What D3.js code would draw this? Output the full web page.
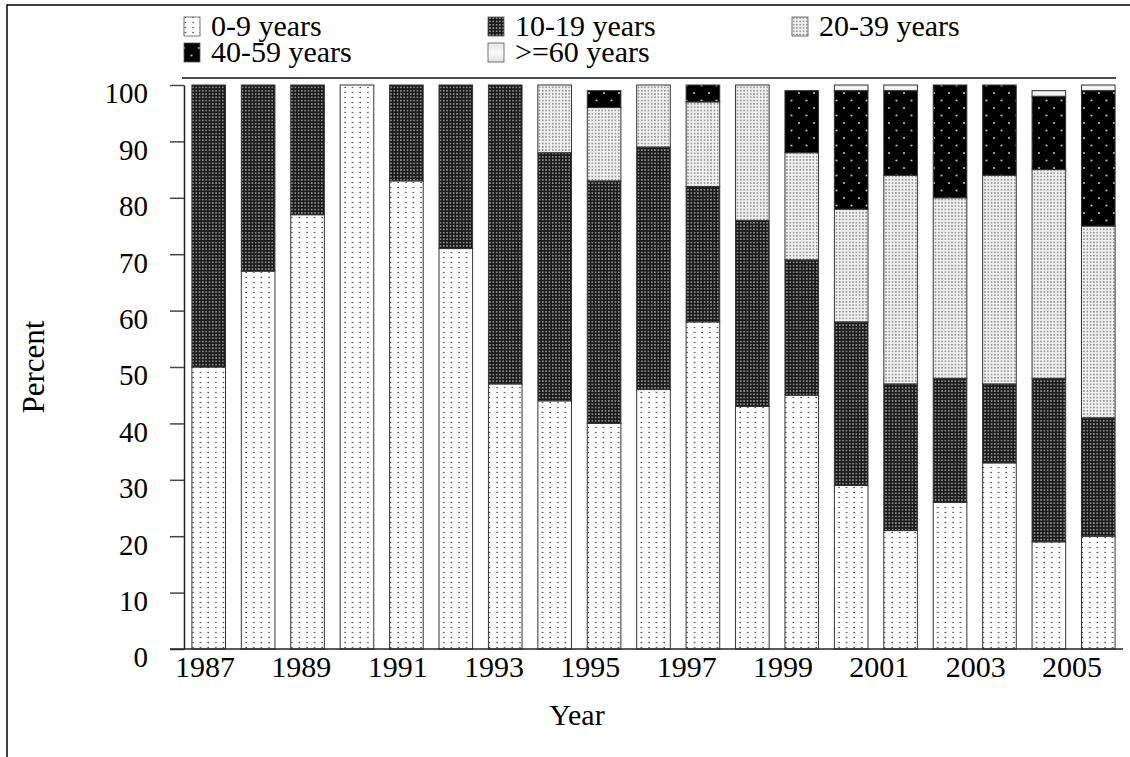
<!DOCTYPE html>
<html>
<head>
<meta charset="utf-8">
<script src="https://cdn.jsdelivr.net/npm/d3@7"></script>
<style>
  html, body { margin: 0; padding: 0; background: #fff; }
  svg { display: block; }
  svg text { font-family: "Liberation Serif", "Times New Roman", serif; fill: #000; }
</style>
</head>
<body>
<div id="chart"></div>
<script>
// 年份
const years = [1987, 1988, 1989, 1990, 1991, 1992, 1993, 1994, 1995, 1996,
  1997, 1998, 1999, 2000, 2001, 2002, 2003, 2004, 2005]
// 各年龄组百分比
const age0to9 = [50, 67, 77, 100, 83, 71, 47, 44, 40, 46, 58, 43, 45, 29, 21, 26, 33, 19, 20]
const age10to19 = [50, 33, 23, 0, 17, 29, 53, 44, 43, 43, 24, 33, 24, 29, 26, 22, 14, 29, 21]
const age20to39 = [0, 0, 0, 0, 0, 0, 0, 12, 13, 11, 15, 24, 19, 20, 37, 32, 37, 37, 34]
const age40to59 = [0, 0, 0, 0, 0, 0, 0, 0, 3, 0, 3, 0, 11, 21, 15, 20, 16, 13, 24]
const age60plus = [0, 0, 0, 0, 0, 0, 0, 0, 0, 0, 0, 0, 0, 1, 1, 0, 0, 1, 1]
const seriesNames = ['0-9 years', '10-19 years', '20-39 years', '40-59 years', '>=60 years']
const yTicks = [0, 10, 20, 30, 40, 50, 60, 70, 80, 90, 100]
const xLabelYears = [1987, 1989, 1991, 1993, 1995, 1997, 1999, 2001, 2003, 2005]

const width = 1130
const height = 757
const serif = '"Liberation Serif", "Times New Roman", serif'

const svg = d3.select('#chart')
  .append('svg')
  .attr('width', width)
  .attr('height', height)

const defs = svg.append('defs')

// 填充图案
function addPattern(id, w, h, bg, dots, r, dotColor) {
  const p = defs.append('pattern')
    .attr('id', id)
    .attr('patternUnits', 'userSpaceOnUse')
    .attr('width', w)
    .attr('height', h)
  p.append('rect').attr('width', w).attr('height', h).attr('fill', bg)
  dots.forEach(([cx, cy]) => {
    p.append('circle').attr('cx', cx).attr('cy', cy).attr('r', r).attr('fill', dotColor)
  })
}
addPattern('p0', 7.6, 5, '#fff', [[3, 2.5]], 0.75, '#222')
addPattern('p1', 3.3, 3.3, '#1a1a1a', [[1.6, 1.6]], 0.85, '#b0b0b0')
addPattern('p2', 3.3, 3.3, '#f2f2f2', [[1.6, 1.6]], 0.9, '#8a8a8a')
addPattern('p3', 15, 15, '#000', [[4, 3], [11.5, 10.5]], 1.1, '#bbb')
const grad = defs.append('linearGradient').attr('id', 'p4')
  .attr('x1', '0%').attr('y1', '0%').attr('x2', '0%').attr('y2', '100%')
grad.append('stop').attr('offset', '0%').attr('stop-color', '#e4e4e4')
grad.append('stop').attr('offset', '50%').attr('stop-color', '#fafafa')
grad.append('stop').attr('offset', '100%').attr('stop-color', '#e0e0e0')
const fills = ['url(#p0)', 'url(#p1)', 'url(#p2)', 'url(#p3)', 'url(#p4)']

// 外框
svg.append('path')
  .attr('d', `M7,${height} L7,5 L${width},5`)
  .attr('fill', 'none')
  .attr('stroke', '#000')
  .attr('stroke-width', 1.5)

// 比例尺
const x = d3.scaleBand()
  .domain(years)
  .range([184, 1123])
  .paddingInner(0.32)
  .paddingOuter(0.16)
const y = d3.scaleLinear()
  .domain([0, 100])
  .range([649, 85])
// x轴标签位置（原图标签略偏离柱中心）
const xLabel = d3.scaleLinear()
  .domain([1987, 2005])
  .range([205, 1072])

// 堆叠数据
const rows = years.map((yr, i) => ({
  year: yr,
  s0: age0to9[i], s1: age10to19[i], s2: age20to39[i], s3: age40to59[i], s4: age60plus[i]
}))
const stacked = d3.stack().keys(['s0', 's1', 's2', 's3', 's4'])(rows)

const barGroup = svg.append('g').attr('class', 'bars')
stacked.forEach((layer, k) => {
  barGroup.append('g')
    .selectAll('rect')
    .data(layer.filter(d => d[1] - d[0] > 0))
    .enter().append('rect')
    .attr('x', d => x(d.data.year))
    .attr('y', d => y(d[1]))
    .attr('width', x.bandwidth())
    .attr('height', d => y(d[0]) - y(d[1]))
    .attr('fill', fills[k])
    .attr('stroke', '#333')
    .attr('stroke-width', 1)
})

// y轴
const yAxis = svg.append('g')
  .attr('transform', 'translate(184,0)')
  .call(d3.axisLeft(y).tickValues(yTicks).tickSize(14).tickSizeOuter(0).tickPadding(22))
yAxis.select('.domain').attr('stroke', '#222').attr('stroke-width', 1.5)
yAxis.selectAll('.tick line').attr('stroke', '#444').attr('stroke-width', 1.5)
yAxis.selectAll('.tick text')
  .attr('font-size', 29)
  .attr('font-family', serif)
  .attr('fill', '#000')
  .attr('dy', '0.62em')

// x轴
svg.append('line')
  .attr('x1', 170).attr('x2', 1123)
  .attr('y1', y(0)).attr('y2', y(0))
  .attr('stroke', '#222')
  .attr('stroke-width', 1.5)
svg.append('g')
  .selectAll('text')
  .data(xLabelYears)
  .enter().append('text')
  .attr('x', d => xLabel(d))
  .attr('y', 677)
  .attr('text-anchor', 'middle')
  .attr('font-family', serif)
  .attr('font-size', 30)
  .text(d => d)

// 顶部横线
svg.append('line')
  .attr('x1', 182).attr('x2', 1116)
  .attr('y1', 78).attr('y2', 78)
  .attr('stroke', '#111')
  .attr('stroke-width', 1.5)

// 轴标题
svg.append('text')
  .attr('x', 577).attr('y', 725)
  .attr('text-anchor', 'middle')
  .attr('font-family', serif)
  .attr('font-size', 30)
  .text('Year')
svg.append('text')
  .attr('transform', 'translate(44,367) rotate(-90)')
  .attr('text-anchor', 'middle')
  .attr('font-family', serif)
  .attr('font-size', 31)
  .text('Percent')

// 图例
const legendPos = [[184, 36], [488, 36], [792, 36], [184, 62], [488, 62]]
const legend = svg.append('g').attr('class', 'legend')
seriesNames.forEach((name, i) => {
  const [lx, ly] = legendPos[i]
  legend.append('rect')
    .attr('x', lx).attr('y', ly - 19)
    .attr('width', 16).attr('height', 19)
    .attr('fill', fills[i])
    .attr('stroke', '#555')
    .attr('stroke-width', 0.8)
  legend.append('text')
    .attr('x', lx + 27).attr('y', ly)
    .attr('font-family', serif)
    .attr('font-size', 30)
    .text(name)
})
</script>
</body>
</html>
